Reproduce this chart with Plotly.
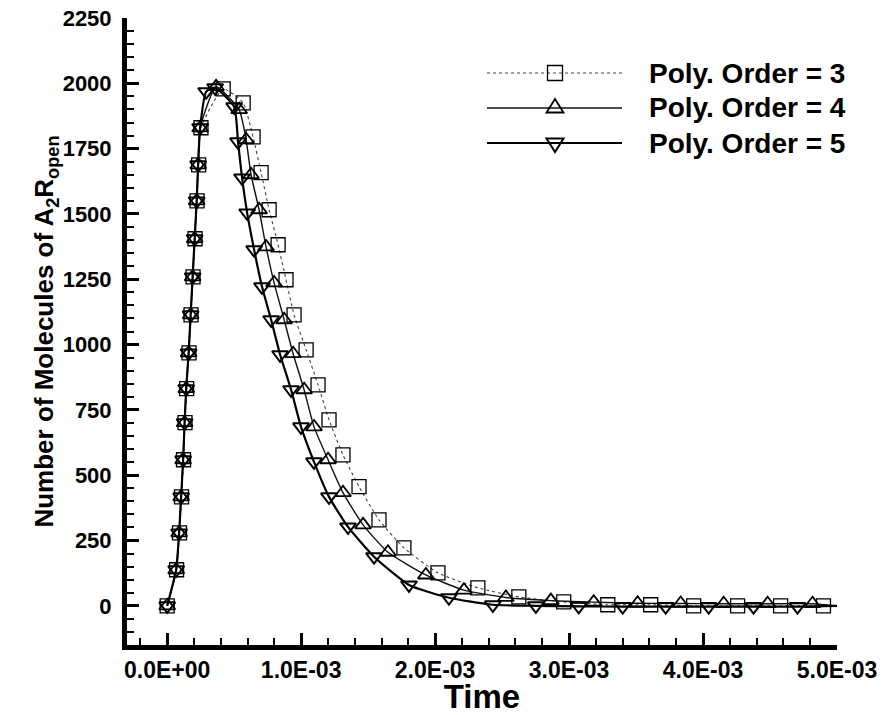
import plotly.graph_objects as go

# ---------------- data (time in s, number of molecules) ----------------
T_END = 5.0e-3

t_order3 = [0.000e-3, 0.070e-3, 0.092e-3, 0.107e-3, 0.122e-3, 0.133e-3, 0.145e-3, 0.163e-3,
            0.178e-3, 0.193e-3, 0.208e-3, 0.223e-3, 0.235e-3, 0.252e-3, 0.418e-3, 0.567e-3,
            0.641e-3, 0.701e-3, 0.761e-3, 0.828e-3, 0.887e-3, 0.947e-3, 1.037e-3, 1.126e-3,
            1.208e-3, 1.312e-3, 1.432e-3, 1.581e-3, 1.767e-3, 2.021e-3, 2.319e-3, 2.625e-3,
            2.960e-3, 3.289e-3, 3.609e-3, 3.930e-3, 4.258e-3, 4.579e-3, 4.899e-3]
v_order3 = [0, 138, 279, 417, 559, 701, 831, 968, 1114, 1259, 1405, 1550, 1688, 1830, 1979, 1925,
            1795, 1658, 1516, 1382, 1248, 1114, 980, 846, 712, 578, 456, 329, 222, 126, 69, 34,
            15, 4, 4, 0, 0, 0, 0]

t_order4 = [0.000e-3, 0.067e-3, 0.089e-3, 0.104e-3, 0.119e-3, 0.130e-3, 0.142e-3, 0.160e-3,
            0.175e-3, 0.190e-3, 0.205e-3, 0.220e-3, 0.231e-3, 0.246e-3, 0.365e-3, 0.537e-3,
            0.589e-3, 0.626e-3, 0.686e-3, 0.738e-3, 0.798e-3, 0.873e-3, 0.940e-3, 1.022e-3,
            1.096e-3, 1.201e-3, 1.312e-3, 1.462e-3, 1.648e-3, 1.931e-3, 2.215e-3, 2.528e-3,
            2.864e-3, 3.184e-3, 3.512e-3, 3.833e-3, 4.154e-3, 4.482e-3, 4.817e-3]
v_order4 = [0, 138, 279, 417, 559, 701, 831, 968, 1114, 1259, 1405, 1550, 1688, 1830, 1987, 1899,
            1784, 1650, 1516, 1374, 1236, 1095, 965, 827, 685, 559, 433, 310, 205, 118, 60, 32,
            20, 14, 10, 9, 8, 8, 8]

t_order5 = [0.000e-3, 0.067e-3, 0.089e-3, 0.104e-3, 0.119e-3, 0.130e-3, 0.142e-3, 0.160e-3,
            0.175e-3, 0.190e-3, 0.205e-3, 0.220e-3, 0.231e-3, 0.246e-3, 0.291e-3, 0.358e-3,
            0.500e-3, 0.529e-3, 0.559e-3, 0.597e-3, 0.649e-3, 0.708e-3, 0.776e-3, 0.843e-3,
            0.925e-3, 0.999e-3, 1.096e-3, 1.208e-3, 1.350e-3, 1.544e-3, 1.805e-3, 2.103e-3,
            2.431e-3, 2.752e-3, 3.072e-3, 3.400e-3, 3.721e-3, 4.042e-3, 4.377e-3, 4.705e-3]
v_order5 = [0, 138, 279, 417, 559, 701, 831, 968, 1114, 1259, 1405, 1550, 1688, 1830, 1968, 1983,
            1910, 1776, 1638, 1504, 1363, 1221, 1095, 961, 827, 685, 551, 417, 302, 188, 80, 31,
            4, 0, -2, -3, -3, -3, -3, -3]

series_names = ["Poly. Order = 3", "Poly. Order = 4", "Poly. Order = 5"]

x_tickvals = [0.0, 1.0e-3, 2.0e-3, 3.0e-3, 4.0e-3, 5.0e-3]
x_ticktext = ["0.0E+00", "1.0E-03", "2.0E-03", "3.0E-03", "4.0E-03", "5.0E-03"]
y_tickvals = [0, 250, 500, 750, 1000, 1250, 1500, 1750, 2000, 2250]

# ---------------- styles ----------------
FONT = "Liberation Sans, Arial, sans-serif"
W, H = 882, 715
ML, MR, MT, MB = 127, 45, 18, 70
X_RANGE = [-0.3e-3, 5.0e-3]
Y_RANGE = [-150, 2250]

styles = [
    dict(dash="dot", width=1.1, color="#444444", symbol="square-open", msize=14, mlw=1.3),
    dict(dash="solid", width=1.4, color="#111111", symbol="triangle-up-open", msize=14, mlw=1.8),
    dict(dash="solid", width=2.2, color="#000000", symbol="triangle-down-open", msize=14, mlw=2.0),
]

data = [(t_order3, v_order3), (t_order4, v_order4), (t_order5, v_order5)]

fig = go.Figure()
for (t, v), st, name in zip(data, styles, series_names):
    fig.add_trace(go.Scatter(
        x=list(t) + [T_END], y=list(v) + [0], mode="lines", name=name,
        line=dict(color=st["color"], width=st["width"], dash=st["dash"], shape="spline", smoothing=0.5),
        showlegend=False, hoverinfo="skip"))
    fig.add_trace(go.Scatter(
        x=t, y=v, mode="markers", name=name,
        marker=dict(symbol=st["symbol"], size=st["msize"], color="black",
                    line=dict(color="black", width=st["mlw"])),
        showlegend=False))

# ---------------- manual legend (long line samples like the original) ----------------
pw, ph = W - ML - MR, H - MT - MB
def px2paper(xp, yp):
    return (xp - ML) / pw, (H - MB - yp) / ph

rows_y = [73, 108, 143]
line_x0, line_x1, mark_x, text_x = 487, 622, 555, 647
shapes = []
annotations = []
for i, (yp, st, name) in enumerate(zip(rows_y, styles, series_names)):
    x0, y0 = px2paper(line_x0, yp)
    x1, _ = px2paper(line_x1, yp)
    shapes.append(dict(type="line", xref="paper", yref="paper", x0=x0, x1=x1, y0=y0, y1=y0,
                       line=dict(color=st["color"], width=st["width"], dash=st["dash"])))
    if i == 0:
        a, b = px2paper(mark_x - 7.5, yp - 7.5)
        c, d = px2paper(mark_x + 7.5, yp + 7.5)
        shapes.append(dict(type="rect", xref="paper", yref="paper", x0=a, x1=c, y0=d, y1=b,
                           line=dict(color="black", width=st["mlw"]), fillcolor="rgba(0,0,0,0)"))
    else:
        hw, hh = 8.5, 13.5
        if i == 1:
            pts = [(mark_x, yp - 2 * hh / 3), (mark_x - hw, yp + hh / 3), (mark_x + hw, yp + hh / 3)]
        else:
            pts = [(mark_x, yp + 2 * hh / 3), (mark_x - hw, yp - hh / 3), (mark_x + hw, yp - hh / 3)]
        pp = [px2paper(px, py) for px, py in pts]
        path = "M{},{} L{},{} L{},{} Z".format(pp[0][0], pp[0][1], pp[1][0], pp[1][1], pp[2][0], pp[2][1])
        shapes.append(dict(type="path", xref="paper", yref="paper", path=path,
                           line=dict(color="black", width=st["mlw"]), fillcolor="rgba(0,0,0,0)"))
    tx, ty = px2paper(text_x, yp)
    annotations.append(dict(x=tx, y=ty, xref="paper", yref="paper", text=name, showarrow=False,
                            xanchor="left", yanchor="middle",
                            font=dict(family=FONT, size=28, color="black", weight="bold")))

fig.update_layout(
    width=W, height=H,
    margin=dict(l=ML, r=MR, t=MT, b=MB, autoexpand=False),
    paper_bgcolor="white", plot_bgcolor="white",
    showlegend=False,
    shapes=shapes, annotations=annotations,
    font=dict(family=FONT, color="black"),
)

fig.update_xaxes(
    range=X_RANGE, showgrid=False, zeroline=False,
    showline=True, linecolor="black", linewidth=5, mirror=False,
    ticks="inside", ticklen=12, tickwidth=3, tickcolor="black",
    tickvals=x_tickvals, ticktext=x_ticktext,
    tickfont=dict(family=FONT, size=23, color="black", weight="bold"),
    minor=dict(ticks="inside", ticklen=7, tickwidth=2, tickcolor="black", dtick=0.2e-3, tick0=0),
    title=dict(text="Time", standoff=8, font=dict(family=FONT, size=33, color="black", weight="bold")),
    automargin=False,
)
fig.update_yaxes(
    range=Y_RANGE, showgrid=False, zeroline=False,
    showline=True, linecolor="black", linewidth=5, mirror=False,
    ticks="inside", ticklen=12, tickwidth=3, tickcolor="black",
    tickvals=y_tickvals,
    tickfont=dict(family=FONT, size=22, color="black", weight="bold"),
    ticklabelstandoff=6,
    minor=dict(ticks="inside", ticklen=7, tickwidth=2, tickcolor="black", dtick=50, tick0=0),
    title=dict(text="Number of Molecules of A<sub>2</sub>R<sub>open</sub>", standoff=2,
               font=dict(family=FONT, size=26, color="black", weight="bold")),
    automargin=False,
)

fig.write_html("out.html")
